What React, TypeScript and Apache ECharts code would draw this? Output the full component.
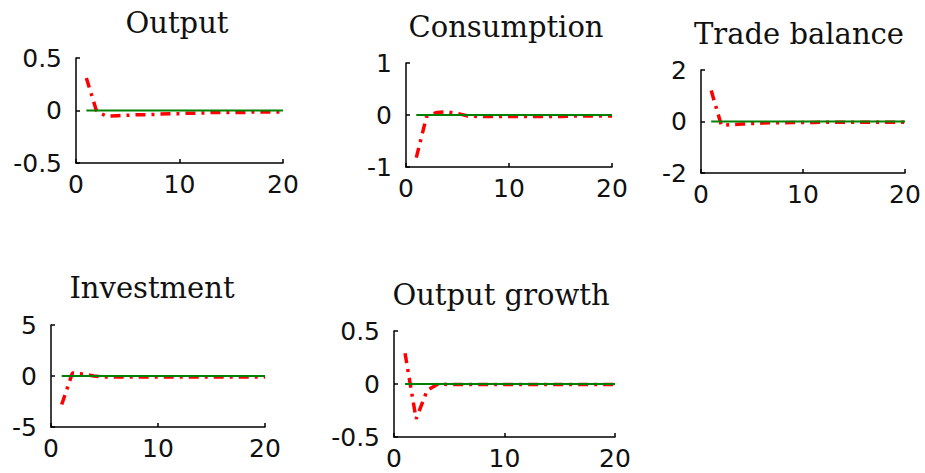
import React, { useEffect, useRef } from "react";
import * as echarts from "echarts";

const steps = [1, 2, 3, 4, 5, 6, 7, 8, 9, 10, 11, 12, 13, 14, 15, 16, 17, 18, 19, 20];

const outputValues = [0.31, -0.01, -0.055, -0.05, -0.045, -0.04, -0.04, -0.035, -0.03, -0.03, -0.025, -0.025, -0.02, -0.02, -0.02, -0.02, -0.015, -0.015, -0.015, -0.015];
const consumptionValues = [-0.82, -0.03, 0.05, 0.06, 0.03, -0.02, -0.03, -0.03, -0.03, -0.03, -0.03, -0.03, -0.03, -0.03, -0.03, -0.02, -0.02, -0.02, -0.02, -0.02];
const tradeBalanceValues = [1.2, -0.15, -0.12, -0.1, -0.08, -0.06, -0.05, -0.05, -0.04, -0.04, -0.04, -0.03, -0.03, -0.03, -0.03, -0.03, -0.03, -0.03, -0.03, -0.03];
const investmentValues = [-2.8, 0.3, 0.2, 0.0, -0.1, -0.1, -0.1, -0.1, -0.1, -0.1, -0.1, -0.1, -0.1, -0.1, -0.1, -0.1, -0.1, -0.1, -0.1, -0.1];
const outputGrowthValues = [0.29, -0.33, -0.06, 0.0, -0.005, -0.005, -0.005, -0.005, -0.005, -0.005, -0.005, -0.005, -0.005, -0.005, -0.005, -0.005, -0.005, -0.005, -0.005, -0.005];
const steadyState = [0, 0, 0, 0, 0, 0, 0, 0, 0, 0, 0, 0, 0, 0, 0, 0, 0, 0, 0, 0];

const titles = ["Output", "Consumption", "Trade balance", "Investment", "Output growth"];
const yMins = [-0.5, -1, -2, -5, -0.5];
const yMaxs = [0.5, 1, 2, 5, 0.5];
const yIntervals = [0.5, 1, 2, 5, 0.5];
const xMin = 0;
const xMax = 20;
const xInterval = 10;

const panelValues = [outputValues, consumptionValues, tradeBalanceValues, investmentValues, outputGrowthValues];

// layout (pixels)
const grids = [
  { left: 76, top: 58, width: 207, height: 105 },
  { left: 406, top: 63, width: 206, height: 104 },
  { left: 701, top: 70, width: 204, height: 103 },
  { left: 51, top: 325, width: 214, height: 102 },
  { left: 394, top: 331, width: 221, height: 106 },
];
const titlePos = [
  { x: 177, y: 23 },
  { x: 506, y: 27 },
  { x: 799, y: 34 },
  { x: 152, y: 288 },
  { x: 501, y: 295 },
];

export default function App() {
  const ref = useRef<HTMLDivElement>(null);
  useEffect(() => {
    if (!ref.current) return;
    const chart = echarts.init(ref.current, null, { renderer: "svg" });
    const labelFont = { fontFamily: "DejaVu Sans", fontSize: 25, color: "#111" };
    const axisLine = { show: true, onZero: false, lineStyle: { color: "#000", width: 1.5 } };
    const axisTick = { show: true, inside: true, length: 4, lineStyle: { color: "#000", width: 1.5 } };
    const option: any = {
      animation: false,
      backgroundColor: "#fff",
      grid: grids.map((g) => ({ ...g, containLabel: false })),
      xAxis: grids.map((_, i) => ({
        type: "value",
        gridIndex: i,
        min: xMin,
        max: xMax,
        interval: xInterval,
        axisLine,
        axisTick,
        splitLine: { show: false },
        axisLabel: { ...labelFont, margin: 9 },
      })),
      yAxis: grids.map((_, i) => ({
        type: "value",
        gridIndex: i,
        min: yMins[i],
        max: yMaxs[i],
        interval: yIntervals[i],
        axisLine,
        axisTick,
        splitLine: { show: false },
        axisLabel: { ...labelFont, margin: 14 },
      })),
      series: [] as any[],
      graphic: titles.map((t, i) => ({
        type: "text",
        x: titlePos[i].x,
        y: titlePos[i].y,
        style: {
          text: t,
          fill: "#111",
          font: '29px "DejaVu Serif"',
          textAlign: "center",
          textVerticalAlign: "middle",
        },
      })),
    };
    panelValues.forEach((vals, i) => {
      option.series.push({
        type: "line",
        xAxisIndex: i,
        yAxisIndex: i,
        data: steps.map((s, k) => [s, vals[k]]),
        showSymbol: false,
        symbol: "none",
        lineStyle: { color: "#ff0000", width: 3.5, type: [10, 6, 3, 6] },
        z: 2,
      });
      option.series.push({
        type: "line",
        xAxisIndex: i,
        yAxisIndex: i,
        data: steps.map((s, k) => [s, steadyState[k]]),
        showSymbol: false,
        symbol: "none",
        lineStyle: { color: "#008000", width: 2, type: "solid" },
        z: 3,
      });
    });
    chart.setOption(option);
    return () => chart.dispose();
  }, []);
  return (
    <div
      ref={ref}
      style={{ position: "fixed", left: 0, top: 0, width: 925, height: 473, background: "#fff" }}
    />
  );
}
